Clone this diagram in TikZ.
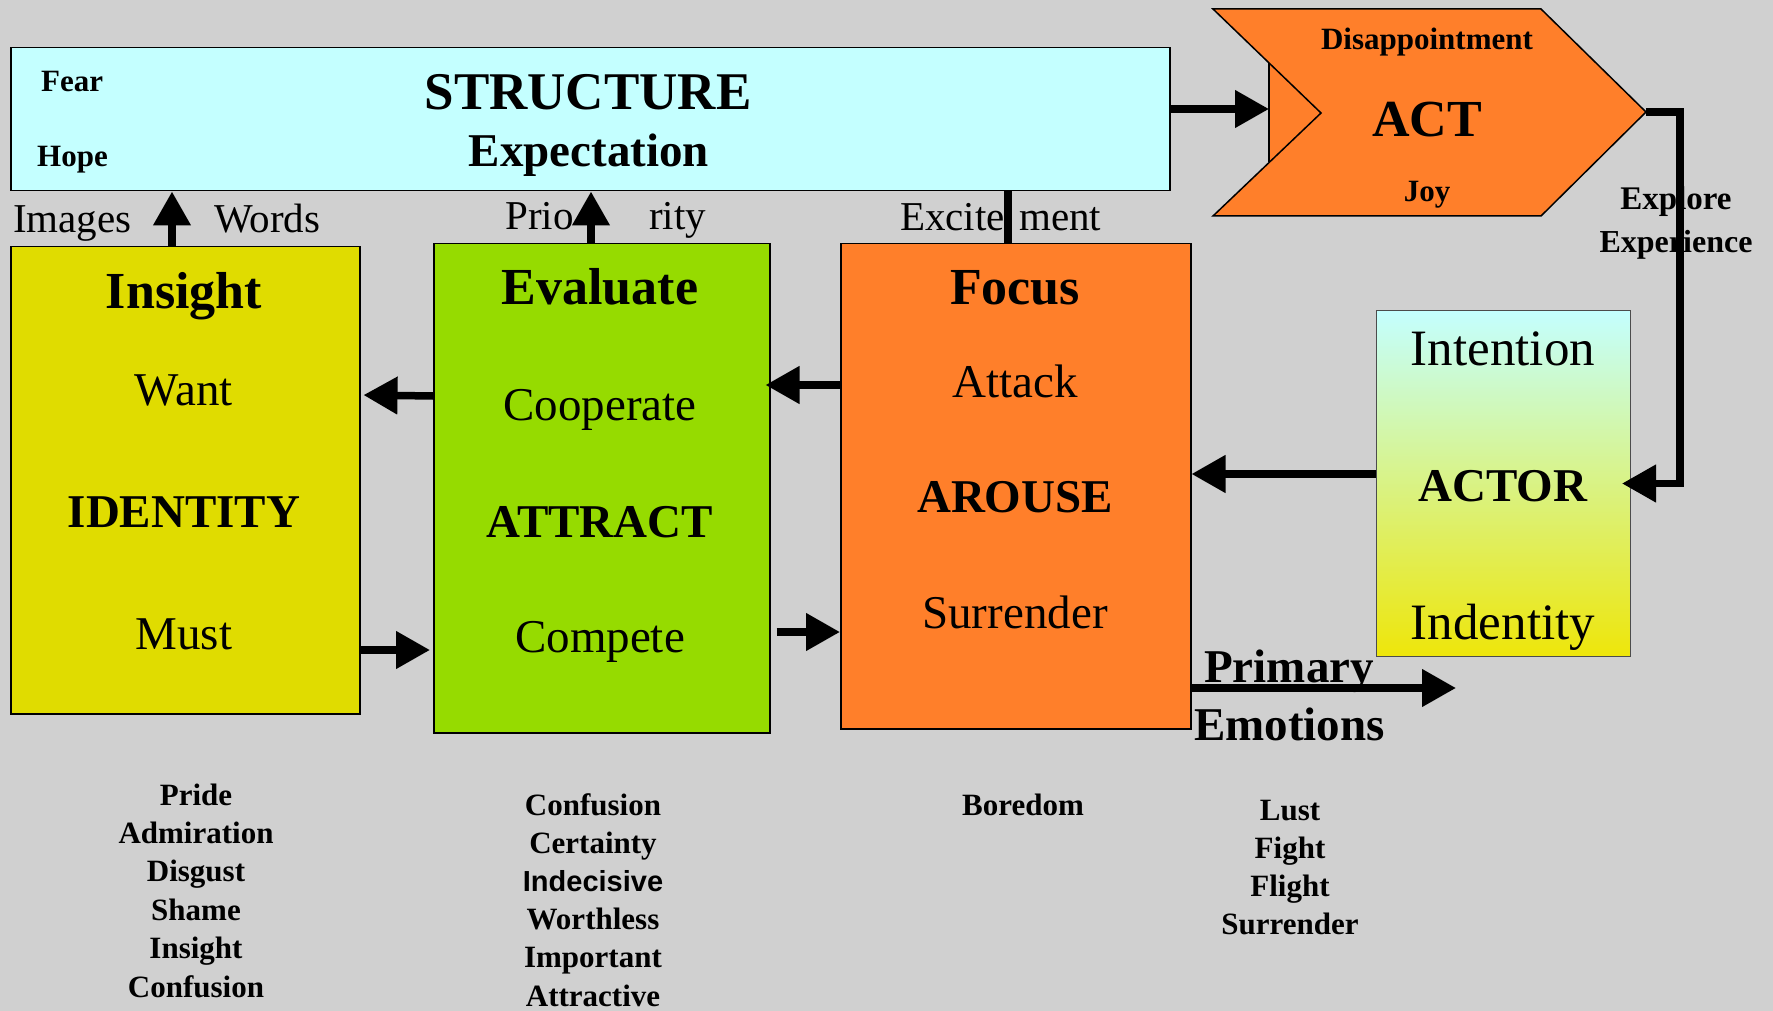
\documentclass[tikz,border=0pt]{standalone}
\usepackage{fontspec}
\setmainfont{Liberation Serif}
\newfontfamily\sansf{Liberation Sans}
\usetikzlibrary{arrows.meta}

\definecolor{bgc}{HTML}{D0D0D0}
\definecolor{cyanc}{HTML}{C4FFFF}
\definecolor{orangec}{HTML}{FF7F2A}
\definecolor{yellowc}{HTML}{E0DC00}
\definecolor{greenc}{HTML}{96DB00}
\definecolor{actorlow}{HTML}{EEE60A}
\definecolor{actormid}{HTML}{DEF2B8}

\begin{document}
\begin{tikzpicture}[x=1pt,y=-1pt,
  box/.style={draw=black, line width=1.5pt, inner sep=0pt, anchor=north west},
  arr/.style={line width=7.5pt, -{Triangle[length=34pt,width=36pt]}},
  bar/.style={line width=7.5pt},
  tHead/.style={font=\fontsize{52}{52}\selectfont\bfseries, anchor=base, inner sep=0pt},
  tBody/.style={font=\fontsize{47}{47}\selectfont, anchor=base, inner sep=0pt},
  tKey/.style={font=\fontsize{47}{47}\selectfont\bfseries, anchor=base, inner sep=0pt},
  tBig/.style={font=\fontsize{51}{51}\selectfont, anchor=base, inner sep=0pt},
  tSmall/.style={font=\fontsize{31}{31}\selectfont\bfseries, anchor=base, inner sep=0pt},
  tLbl/.style={font=\fontsize{41}{41}\selectfont, anchor=base west, inner sep=0pt},
  tList/.style={font=\fontsize{31}{31}\selectfont\bfseries, anchor=base, inner sep=0pt}
]
% canvas
\fill[bgc] (0,0) rectangle (1773,1011);
\useasboundingbox (0,0) rectangle (1773,1011);

% boxes
\node[box, fill=cyanc, minimum width=1159pt, minimum height=143pt] (structure) at (10,47) {};
\node[box, fill=yellowc, minimum width=349pt, minimum height=467pt] (insight) at (10,246) {};
\node[box, fill=greenc, minimum width=336pt, minimum height=489pt] (evaluate) at (433,243) {};
\node[box, fill=orangec, minimum width=350pt, minimum height=485pt] (focus) at (840,243) {};
\node[box, draw=black!70, line width=1pt, top color=cyanc, middle color=actormid, bottom color=actorlow,
      minimum width=254pt, minimum height=346pt] (actor) at (1376,310) {};

% ACT chevron with the filled notch
\fill[orangec] (1269,63) -- (1321,113) -- (1269,162) -- cycle;
\draw[line width=1.2pt] (1269,63) -- (1269,162);
\draw[fill=orangec, line width=1.5pt, line join=miter]
  (1213,9) -- (1541,9) -- (1646,112) -- (1541,216) -- (1213,216) -- (1321,113) -- cycle;
\coordinate (acttip) at (1646,112);
\coordinate (actin) at (1269,109);

% STRUCTURE
\node[tSmall, anchor=base west] (fear) at (41,92) {Fear};
\node[tSmall, anchor=base west] (hope) at (37,167) {Hope};
\node[font=\fontsize{53}{53}\selectfont\bfseries, anchor=base, inner sep=0pt] (structt) at (588,110) {STRUCTURE};
\node[font=\fontsize{47}{47}\selectfont\bfseries, anchor=base, inner sep=0pt] (expect) at (589,167) {Expectation};

% ACT
\node[tSmall] (disap) at (1427,50) {Disappointment};
\node[tHead] (actt) at (1427,137) {ACT};
\node[tSmall] (joy) at (1427,202) {Joy};

% labels between the rows
\node[tLbl] (images) at (13,233) {Images};
\node[tLbl] (words) at (214,233) {Words};
\node[tLbl] (prio) at (505,230) {Prio};
\node[tLbl] (rity) at (649,230) {rity};
\node[tLbl] (excite) at (900,231) {Excite};
\node[tLbl] (ment) at (1019,231) {ment};
\node[font=\fontsize{33}{33}\selectfont\bfseries, anchor=base, inner sep=0pt] (explore) at (1676,210) {Explore};
\node[font=\fontsize{32}{32}\selectfont\bfseries, anchor=base, inner sep=0pt] (experience) at (1676,253) {Experience};

% Insight
\node[tHead] (insightt) at (184,308) {Insight};
\node[tBody] (want) at (184,405) {Want};
\node[tKey] (identity) at (184,527) {IDENTITY};
\node[tBody] (must) at (184,649) {Must};

% Evaluate
\node[tHead] (evaluatet) at (600,305) {Evaluate};
\node[tBody] (cooperate) at (600,420) {Cooperate};
\node[tKey] (attract) at (600,537) {ATTRACT};
\node[tBody] (compete) at (600,652) {Compete};

% Focus
\node[tHead] (focust) at (1015,305) {Focus};
\node[tBody] (attack) at (1015,397) {Attack};
\node[tKey] (arouse) at (1015,512) {AROUSE};
\node[tBody] (surrender) at (1015,628) {Surrender};

% Actor
\node[tBig] (intention) at (1503,365) {Intention};
\node[tKey] (actort) at (1503,501) {ACTOR};
\node[tBig] (indentity) at (1503,639) {Indentity};

% Primary emotions
\node[tKey, anchor=base west] (primary) at (1204,682) {Primary};
\node[tKey, anchor=base west] (emotions) at (1194,740) {Emotions};

% emotion lists
\foreach \w [count=\i] in {Pride,Admiration,Disgust,Shame,Insight,Confusion}
  \node[tList] (la\i) at (196,{805+38.4*(\i-1)}) {\w};
\foreach \w [count=\i] in {Confusion,Certainty,{\sansf\fontsize{29}{29}\selectfont Indecisive},Worthless,Important,Attractive}
  \node[tList] (lb\i) at (593,{815+38.2*(\i-1)}) {\w};
\node[tList] (lc1) at (1023,815) {Boredom};
\foreach \w [count=\i] in {Lust,Fight,Flight,Surrender}
  \node[tList] (ld\i) at (1290,{820+38.3*(\i-1)}) {\w};

% connectors
\draw[arr] (insight.north -| 172,0) -- (structure.south -| 172,0);
\draw[arr] (evaluate.north -| 591,0) -- (structure.south -| 591,0);
\draw[bar] (focus.north -| 1008,0) -- (structure.south -| 1008,0);
\draw[arr] (structure.east |- 0,109) -- (actin);
\draw[arr, line join=miter] (acttip) -- (1680,112) |- ([xshift=-9pt]actor.east);
\draw[arr] (actor.west |- 0,474) -- (focus.east |- 0,474);
\draw[arr, shorten >=-5pt] (focus.west |- 0,385) -- (evaluate.east |- 0,385);
\draw[arr, shorten >=3pt] (evaluate.west |- 0,396) -- (insight.east |- 0,395);
\draw[arr, shorten >=3pt] (insight.east |- 0,650) -- (evaluate.west |- 0,650);
\draw[arr, shorten <=6pt] (evaluate.east |- 0,632) -- (focus.west |- 0,632);
\coordinate (pe) at (1456,688);
\draw[arr] (focus.east |- 0,688) -- (pe);
\end{tikzpicture}
\end{document}
